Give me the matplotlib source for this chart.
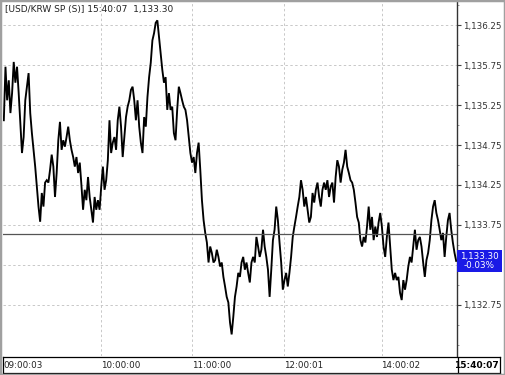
import numpy as np
import matplotlib
matplotlib.use("Agg")
import matplotlib.pyplot as plt
import matplotlib.transforms as mtransforms
from matplotlib.patches import Rectangle
from matplotlib.ticker import FuncFormatter, MultipleLocator

# USD/KRW spot ticks
s_0900 = [1135.06, 1135.73, 1135.31, 1135.56, 1135.15, 1135.40, 1135.79, 1135.53, 1135.73, 1135.40,
          1135.03, 1134.65, 1134.85, 1135.31, 1135.48, 1135.65, 1135.15, 1134.90, 1134.69, 1134.48,
          1134.23, 1133.98, 1133.79, 1134.15, 1133.98, 1134.28, 1134.31, 1134.28, 1134.44, 1134.63,
          1134.48, 1134.10, 1134.40, 1134.81, 1135.04, 1134.69, 1134.81, 1134.73, 1134.85, 1134.98,
          1134.81, 1134.69, 1134.60, 1134.48, 1134.60, 1134.40, 1134.53, 1134.25, 1133.94, 1134.19,
          1134.06, 1134.35, 1134.10, 1133.94, 1133.78, 1134.10, 1133.94, 1134.06, 1133.94]
s_1000 = [1134.23, 1134.48, 1134.19, 1134.31, 1134.56, 1135.06, 1134.65, 1134.78, 1134.85, 1134.69,
          1135.06, 1135.23, 1134.98, 1134.60, 1134.85, 1135.10, 1135.23, 1135.31, 1135.44, 1135.48,
          1135.31, 1135.06, 1135.31, 1134.98, 1134.78, 1134.65, 1135.10, 1134.98, 1135.35, 1135.60,
          1135.78, 1136.06, 1136.15, 1136.28, 1136.31, 1136.10, 1135.90, 1135.69, 1135.53, 1135.60,
          1135.19, 1135.40, 1135.19, 1135.23, 1134.90, 1134.81, 1135.19, 1135.48, 1135.40, 1135.31,
          1135.23, 1135.19, 1135.06, 1134.85, 1134.65]
s_1100 = [1134.53, 1134.60, 1134.40, 1134.65, 1134.78, 1134.44, 1134.06, 1133.81, 1133.65, 1133.53,
          1133.28, 1133.48, 1133.40, 1133.28, 1133.31, 1133.44, 1133.35, 1133.23, 1133.28, 1133.10,
          1132.98, 1132.85, 1132.78, 1132.53, 1132.38, 1132.60, 1132.85, 1132.98, 1133.15, 1133.10,
          1133.28, 1133.35, 1133.19, 1133.28, 1133.15, 1133.03, 1133.28, 1133.35, 1133.28, 1133.60,
          1133.48, 1133.35, 1133.44, 1133.69, 1133.48, 1133.35, 1133.19, 1132.85, 1133.19, 1133.56,
          1133.69, 1133.98, 1133.81, 1133.53, 1133.28, 1132.94]
s_1200 = [1133.06, 1133.15, 1132.98, 1133.15, 1133.35, 1133.60, 1133.73, 1133.85, 1133.98, 1134.10,
          1134.31, 1134.19, 1133.98, 1134.10, 1133.94, 1133.78, 1133.85, 1134.15, 1134.03, 1134.19,
          1134.28, 1134.10, 1133.98, 1134.19, 1134.28, 1134.19, 1134.31, 1134.10, 1134.23, 1134.28,
          1134.03, 1134.35, 1134.56, 1134.48, 1134.28, 1134.44, 1134.53, 1134.69, 1134.48, 1134.40,
          1134.31, 1134.28, 1134.19, 1134.03, 1133.85, 1133.78, 1133.56, 1133.48, 1133.60, 1133.53,
          1133.73, 1133.98, 1133.69, 1133.85, 1133.56, 1133.73, 1133.60, 1133.78, 1133.90]
s_1400 = [1133.73, 1133.48, 1133.35, 1133.60, 1133.78, 1133.48, 1133.19, 1133.06, 1133.15, 1133.06,
          1133.10, 1132.90, 1132.81, 1133.06, 1132.94, 1133.06, 1133.23, 1133.35, 1133.28, 1133.48,
          1133.69, 1133.44, 1133.56, 1133.60, 1133.48, 1133.28, 1133.10, 1133.31, 1133.40, 1133.56,
          1133.81, 1133.98, 1134.06, 1133.90, 1133.81, 1133.69, 1133.56, 1133.65, 1133.35, 1133.60,
          1133.81, 1133.90, 1133.69, 1133.53, 1133.40, 1133.30]

sessions = [s_0900, s_1000, s_1100, s_1200, s_1400]
time_labels = ["09:00:03", "10:00:00", "11:00:00", "12:00:01", "14:00:02"]
last_time = "15:40:07"
prev_close = 1133.64
price_ticks = [1132.75, 1133.25, 1133.75, 1134.25, 1134.75, 1135.25, 1135.75, 1136.25]

prices = np.concatenate(sessions)
x = np.arange(len(prices))
starts = np.cumsum([0] + [len(s) for s in sessions[:-1]])
last = prices[-1]
pct = (last - prev_close) / prev_close * 100

W, H = 505, 375
fig = plt.figure(figsize=(W / 100, H / 100), dpi=100)
fig.patch.set_facecolor("white")
plt.rcParams["font.family"] = ["DejaVu Sans"]

# main price panel
ax = fig.add_axes([3 / W, 19 / H, 454 / W, 354 / H])
ax.plot(x, prices, color="black", lw=1.35, solid_joinstyle="miter")
ax.axhline(prev_close, color="#555555", lw=0.9)

ax.set_xlim(-0.5, len(prices) - 0.5)
ax.set_ylim(1132.11, 1136.54)
ax.set_xticks(starts[1:])
ax.tick_params(axis="x", length=0, labelbottom=False)
ax.set_yticks(price_ticks)
ax.yaxis.set_minor_locator(MultipleLocator(0.25))
ax.yaxis.tick_right()


def fmt_price(v, p):
    # the label sitting under the price badge is hidden in the original
    if abs(v - last) < 0.1:
        return ""
    return f"{v:,.2f}"


ax.yaxis.set_major_formatter(FuncFormatter(fmt_price))
ax.tick_params(axis="y", which="major", length=3, width=0.8, color="#444444",
               labelsize=6.3, pad=1, labelcolor="#333333")
ax.tick_params(axis="y", which="minor", length=1.5, width=0.6, color="#888888")
ax.grid(True, color="#c8c8c8", ls=(0, (2.5, 2.5)), lw=0.7)

for side in ["top", "bottom", "left"]:
    ax.spines[side].set_visible(False)
ax.spines["right"].set_color("#333333")
ax.spines["right"].set_linewidth(1.0)

ax.text(2 / 454, 1 - 3 / 354, "[USD/KRW SP (S)] 15:40:07  1,133.30", transform=ax.transAxes,
        ha="left", va="top", fontsize=6.5, color="#222222")

# current price badge on the right axis
blend = mtransforms.blended_transform_factory(ax.transAxes, ax.transData)
ax.add_patch(Rectangle((1.0, last - 0.14), 45 / 454, 0.28, transform=blend, clip_on=False,
                       facecolor="#1a1ae6", edgecolor="none", zorder=5))
ax.text(1 + 22.5 / 454, last, f"{last:,.2f}\n{pct:.2f}%", transform=blend, ha="center",
        va="center", color="white", fontsize=6.3, linespacing=1.05, zorder=6, clip_on=False)

# time strip at the bottom
strip = fig.add_axes([3 / W, 2 / H, 497 / W, 16 / H])
strip.set_xticks([])
strip.set_yticks([])
for sp in strip.spines.values():
    sp.set_color("black")
    sp.set_linewidth(0.9)
strip.axvline(455 / 497, color="black", lw=0.9)

tb = mtransforms.blended_transform_factory(ax.transData, fig.transFigure)
for i, lab in zip(starts, time_labels):
    fig.text(i - 0.3, 10 / H, lab, transform=tb, fontsize=6.3, ha="left", va="center",
             color="#222222")
fig.text(499 / W, 10 / H, last_time, fontsize=6.5, fontweight="bold", ha="right",
         va="center", color="black")

# window frame
fig.add_artist(Rectangle((0, 0), 1, 1, transform=fig.transFigure, fill=False,
                         edgecolor="#a0a0a0", lw=2.5))

fig.savefig("out.png", dpi=100)
